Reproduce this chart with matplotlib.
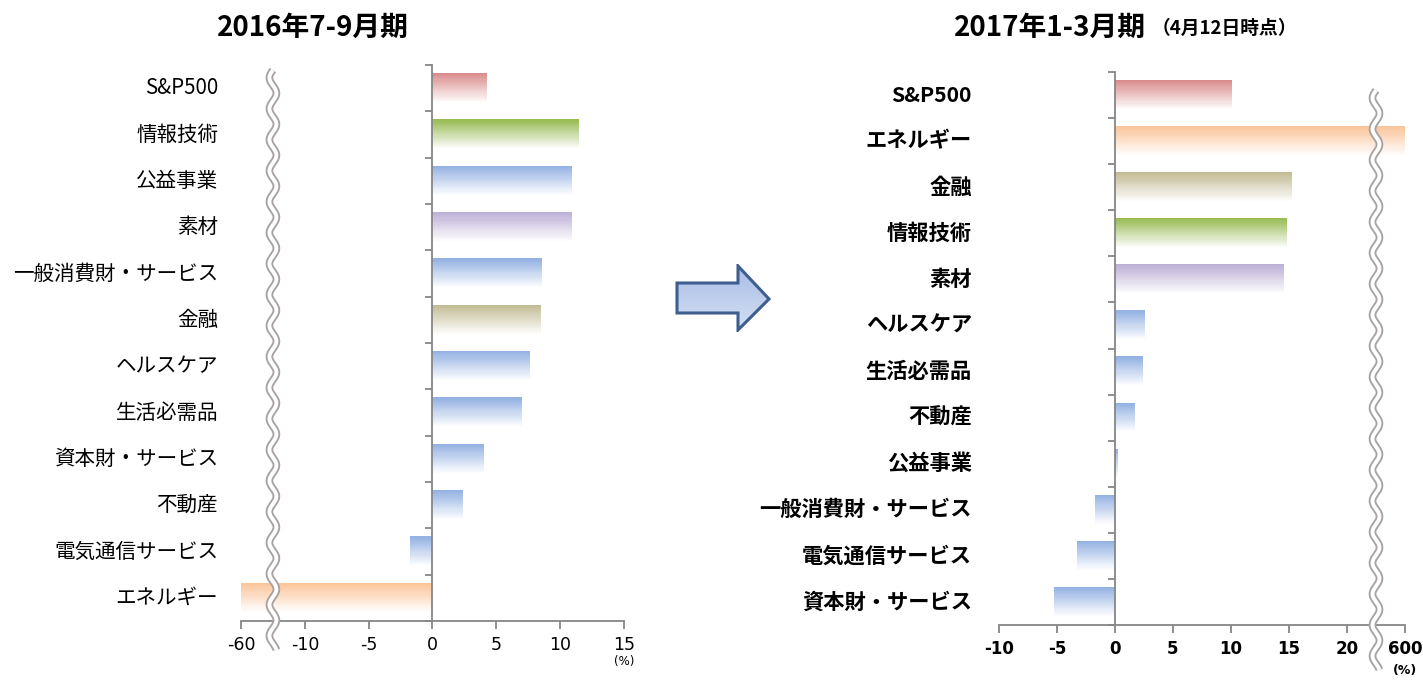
import numpy as np
import matplotlib
matplotlib.use('Agg')
import matplotlib.pyplot as plt
from matplotlib.patches import Polygon

plt.rcParams['font.family'] = ['DejaVu Sans', 'Noto Sans CJK JP']

# 2016年7-9月期 (上から順)
cats_q3 = ['S&P500', '情報技術', '公益事業', '素材', '一般消費財・サービス', '金融',
           'ヘルスケア', '生活必需品', '資本財・サービス', '不動産', '電気通信サービス', 'エネルギー']
vals_q3 = [4.3, 11.5, 10.9, 10.9, 8.6, 8.5, 7.6, 7.0, 4.0, 2.4, -1.8, -60.0]
ticks_q3 = [-60, -10, -5, 0, 5, 10, 15]

# 2017年1-3月期 (4月12日時点)
cats_q1 = ['S&P500', 'エネルギー', '金融', '情報技術', '素材', 'ヘルスケア', '生活必需品',
           '不動産', '公益事業', '一般消費財・サービス', '電気通信サービス', '資本財・サービス']
vals_q1 = [10.1, 600.0, 15.3, 14.8, 14.6, 2.6, 2.4, 1.7, 0.3, -1.7, -3.3, -5.3]
ticks_q1 = [-10, -5, 0, 5, 10, 15, 20, 600]

# 色 (セクター別)
colores = {'S&P500': '#D98C8C', '情報技術': '#98BB55', '素材': '#BDB0D6',
           '金融': '#C2BB94', 'エネルギー': '#FAC49A'}
azul = '#93B1E2'
gris = '#868686'
jp = ['Noto Sans CJK JP', 'DejaVu Sans']


# 軸の省略 (波線) 用のスケール
def fwd_izq(x):
    x = np.asarray(x, float)
    return np.where(x < -10, -10 + (x + 10) / 10, x)

def inv_izq(x):
    x = np.asarray(x, float)
    return np.where(x < -10, -10 + (x + 10) * 10, x)

def fwd_der(x):
    x = np.asarray(x, float)
    return np.where(x > 22.5, 22.5 + (x - 22.5) * 2.5 / 577.5, x)

def inv_der(x):
    x = np.asarray(x, float)
    return np.where(x > 22.5, 22.5 + (x - 22.5) * 577.5 / 2.5, x)


def barras_degradado(ax, vals, colores_barra, alto=0.65, n=28):
    y = np.arange(len(vals))
    for k in range(n):
        f = k / (n - 1)
        cols = []
        for c in colores_barra:
            rgb = np.array(matplotlib.colors.to_rgb(c))
            cols.append(tuple(rgb + (1 - rgb) * f))
        yc = y - alto / 2 + (k + 0.5) * alto / n
        ax.barh(yc, vals, height=alto / n * 1.15, left=0, color=cols,
                linewidth=0, antialiased=False, zorder=2)


def onda(ax, xc, y0, y1, ancho_px, alto_px):
    yy = np.linspace(y0, y1, 400)
    periodo = 31 / alto_px
    amp = 3.5 / ancho_px
    xx = xc + amp * np.sin(2 * np.pi * (yy - y1) / periodo)
    ax.plot(xx, yy, transform=ax.transAxes, color='#a8a2a2', lw=5.5,
            clip_on=False, zorder=5, solid_capstyle='butt')
    ax.plot(xx, yy, transform=ax.transAxes, color='white', lw=2.8,
            clip_on=False, zorder=6, solid_capstyle='butt')


def preparar(ax, cats, vals, ticks, fwd, inv, xlim, negrita, dx_label, fs_cat, fs_tick):
    ax.set_xscale('function', functions=(fwd, inv))
    cols = [colores.get(c, azul) for c in cats]
    barras_degradado(ax, vals, cols)
    ax.set_xlim(*xlim)
    ax.set_ylim(len(cats) - 0.5, -0.5)
    for s in ['top', 'right']:
        ax.spines[s].set_visible(False)
    ax.spines['left'].set_position(('data', 0))
    ax.spines['left'].set_color(gris)
    ax.spines['left'].set_linewidth(1.3)
    ax.spines['left'].set_zorder(3)
    ax.spines['bottom'].set_color(gris)
    ax.spines['bottom'].set_linewidth(1.3)
    ax.set_yticks(np.arange(-0.5, len(cats), 1))
    ax.set_yticklabels([])
    ax.tick_params(axis='y', length=5, width=1.3, color=gris, direction='out')
    ax.set_xticks(ticks)
    ax.set_xticklabels([str(t) for t in ticks], fontsize=fs_tick,
                       fontweight='bold' if negrita else 'normal')
    ax.tick_params(axis='x', length=6, width=1.3, color=gris, direction='out', pad=5)
    ax.minorticks_off()
    for i, c in enumerate(cats):
        ax.text(dx_label, i, c, transform=ax.get_yaxis_transform(), ha='right',
                va='center', fontsize=fs_cat, family=jp,
                fontweight='bold' if negrita else 'normal')


fig = plt.figure(figsize=(14.23, 6.8), dpi=100)
ax1 = fig.add_axes([241 / 1423, 59 / 680, 383 / 1423, 556 / 680])
ax2 = fig.add_axes([999 / 1423, 55 / 680, 406 / 1423, 553 / 680])

preparar(ax1, cats_q3, vals_q3, ticks_q3, fwd_izq, inv_izq, (-60, 15), False,
         -23 / 383, 14.8, 12.5)
preparar(ax2, cats_q1, vals_q1, ticks_q1, fwd_der, inv_der, (-10, 600), True,
         -27 / 406, 15.3, 12)

onda(ax1, 2.5 / 30, -0.052, 0.991, 383, 556)
onda(ax2, 32.5 / 35, -0.081, 0.967, 406, 553)

ax1.text(1.0, -0.072, '(%)', transform=ax1.transAxes, ha='center', va='center', fontsize=8.5)
ax2.text(1.0, -0.083, '(%)', transform=ax2.transAxes, ha='center', va='center',
         fontsize=9, fontweight='bold')

fig.text(313 / 1423, 1 - 28 / 680, '2016年7-9月期', ha='center', va='center',
         fontsize=20, fontweight='bold', family=jp)
fig.text(1050 / 1423, 1 - 28 / 680, '2017年1-3月期', ha='center', va='center',
         fontsize=20, fontweight='bold', family=jp)
fig.text(1152 / 1423, 1 - 28 / 680, '（4月12日時点）', ha='left', va='center',
         fontsize=13.5, fontweight='bold', family=jp)

# 矢印
axf = fig.add_axes([675 / 1423, 1 - 332 / 680, 96 / 1423, 68 / 680])
axf.set_xlim(0, 96)
axf.set_ylim(68, 0)
axf.axis('off')
pts = np.array([[677, 283], [738, 283], [738, 266], [769, 299], [738, 332 - 2],
                [738, 313], [677, 313]]) - np.array([675, 264])
grad = np.linspace(0, 1, 64)[:, None]
cmap = matplotlib.colors.LinearSegmentedColormap.from_list('flecha', ['#A7BCE6', '#D6E0F3'])
img = axf.imshow(grad, extent=(0, 96, 68, 0), cmap=cmap, aspect='auto')
poly = Polygon(pts, closed=True, facecolor='none', edgecolor='#3D5E8E', lw=2.2, joinstyle='miter')
axf.add_patch(poly)
img.set_clip_path(poly)

fig.savefig('out.png', dpi=100)
